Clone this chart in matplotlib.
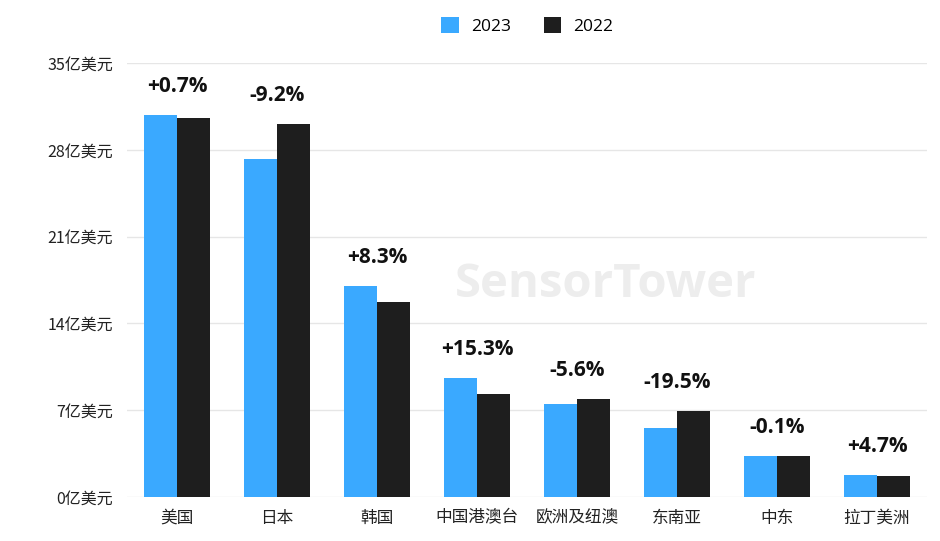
import matplotlib
matplotlib.use("Agg")
import matplotlib.pyplot as plt
import numpy as np

plt.rcParams['font.family'] = ['Noto Sans CJK SC', 'DejaVu Sans']

# data (亿美元)
regions = ["美国", "日本", "韩国", "中国港澳台", "欧洲及纽澳", "东南亚", "中东", "拉丁美洲"]
rev_2023 = [30.8, 27.3, 17.0, 9.6, 7.5, 5.6, 3.3, 1.8]
rev_2022 = [30.6, 30.1, 15.7, 8.3, 7.9, 6.9, 3.3, 1.7]
growth = ["+0.7%", "-9.2%", "+8.3%", "+15.3%", "-5.6%", "-19.5%", "-0.1%", "+4.7%"]
yticks = [0, 7, 14, 21, 28, 35]

blue = "#3aa9ff"
black = "#1e1e1e"

fig = plt.figure(figsize=(9.4, 5.41), dpi=100)
ax = fig.add_axes([0.1351, 0.0813, 0.851, 0.8022])

x = np.arange(len(regions))
w = 0.33
b1 = ax.bar(x - w / 2, rev_2023, w, color=blue, label="2023", zorder=3)
b2 = ax.bar(x + w / 2, rev_2022, w, color=black, label="2022", zorder=3)

# growth labels above the taller bar of each pair
for i, g in enumerate(growth):
    top = max(rev_2023[i], rev_2022[i])
    ax.annotate(g, (x[i], top), xytext=(0, 13), textcoords="offset points",
                ha="center", va="bottom", fontsize=15, fontweight="bold",
                family=["Open Sans", "DejaVu Sans"], color="#111111")

# faint watermark
ax.text(0.41, 0.49, "SensorTower", transform=ax.transAxes, fontsize=34,
        fontweight="bold", color="#ededed", family=["Open Sans", "DejaVu Sans"],
        ha="left", va="center", zorder=0)

ax.set_xlim(-0.5, len(regions) - 0.5)
ax.set_ylim(0, 35)
ax.set_yticks(yticks)
ax.set_yticklabels([f"{v}亿美元" for v in yticks])
ax.set_xticks(x)
ax.set_xticklabels(regions)
ax.tick_params(axis="y", length=0, pad=10, labelsize=11.5, labelcolor="#222222")
ax.tick_params(axis="x", length=0, pad=9, labelsize=12, labelcolor="#222222")
ax.grid(axis="y", color="#e6e6e6", linewidth=1, zorder=0)
for s in ax.spines.values():
    s.set_visible(False)

fig.legend(handles=[b1, b2], loc="upper center", bbox_to_anchor=(0.561, 0.997),
           ncol=2, frameon=False, handlelength=1.0, handleheight=1.0,
           columnspacing=1.9, handletextpad=0.7,
           prop={"family": ["Open Sans", "DejaVu Sans"], "size": 12.5})

fig.savefig("out.png", dpi=100, facecolor="white")
